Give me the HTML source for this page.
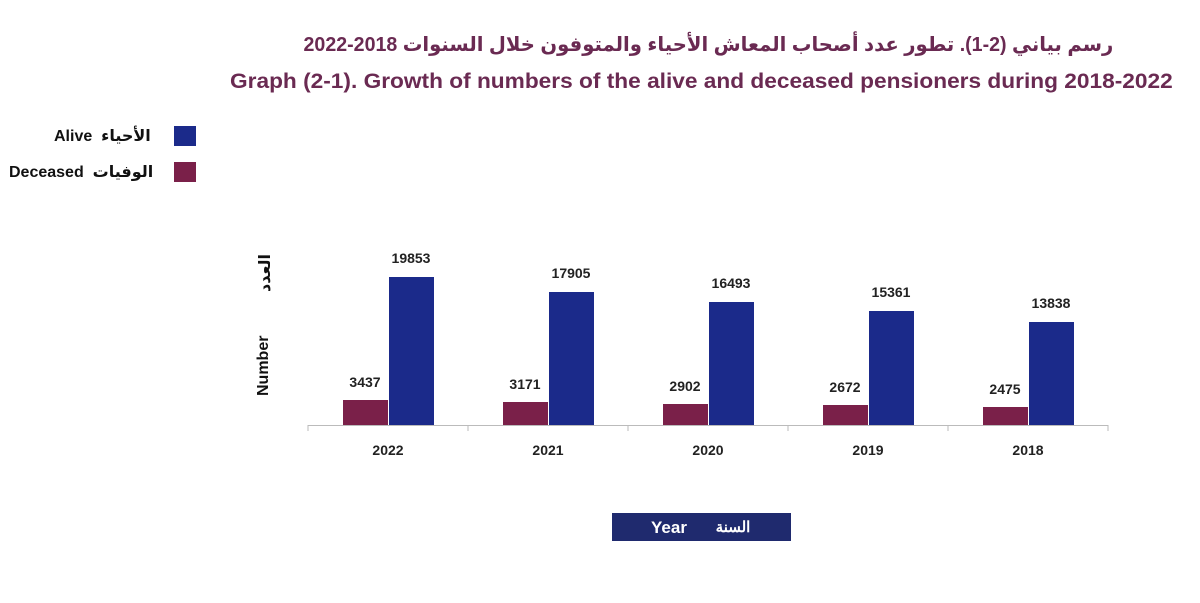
<!DOCTYPE html>
<html><head><meta charset="utf-8"><style>
body{margin:0;width:1200px;height:603px;background:#fff;position:relative;overflow:hidden;font-family:"Liberation Sans","DejaVu Sans",sans-serif;font-weight:bold}
.t{position:absolute;white-space:nowrap}
</style></head><body>
<div class="t" style="right:87px;top:32px;font-size:20px;color:#6a2a52;direction:rtl;transform:scaleX(0.98);transform-origin:right center">رسم بياني (2-1). تطور عدد أصحاب المعاش الأحياء والمتوفون خلال السنوات 2018-2022</div>
<div class="t" style="left:230px;top:70px;font-size:21px;color:#6a2a52;transform:scaleX(1.08);transform-origin:left center">Graph (2-1). Growth of numbers of the alive and deceased pensioners during 2018-2022</div>
<div class="t" style="left:54px;top:126px;font-size:16px;color:#111">Alive &nbsp;الأحياء</div>
<div style="position:absolute;left:174px;top:126px;width:22px;height:20px;background:#1b2a8a"></div>
<div class="t" style="left:9px;top:162px;font-size:16px;color:#111">Deceased &nbsp;الوفيات</div>
<div style="position:absolute;left:174px;top:162px;width:22px;height:20px;background:#7a2049"></div>
<div class="t" style="font-size:16px;color:#111;transform:rotate(-90deg);transform-origin:0 0;left:255px;top:396px">Number</div>
<div class="t" style="left:255px;top:292px;font-size:16px;color:#111;transform:rotate(-90deg);transform-origin:0 0">العدد</div>
<svg width="1200" height="603" style="position:absolute;left:0;top:0" font-family="Liberation Sans, sans-serif" font-weight="bold" font-size="14">
<line x1="308" y1="425.5" x2="1108" y2="425.5" stroke="#bbb"/>
<g stroke="#bbb"><line x1="308" y1="425" x2="308" y2="431"/><line x1="468" y1="425" x2="468" y2="431"/><line x1="628" y1="425" x2="628" y2="431"/><line x1="788" y1="425" x2="788" y2="431"/><line x1="948" y1="425" x2="948" y2="431"/><line x1="1108" y1="425" x2="1108" y2="431"/></g>
<g fill="#7a2049">
<rect x="343" y="400" width="45" height="25"/><rect x="503" y="402" width="45" height="23"/><rect x="663" y="404" width="45" height="21"/><rect x="823" y="405" width="45" height="20"/><rect x="983" y="407" width="45" height="18"/></g>
<g fill="#1b2a8a">
<rect x="389" y="277" width="45" height="148"/><rect x="549" y="292" width="45" height="133"/><rect x="709" y="302" width="45" height="123"/><rect x="869" y="311" width="45" height="114"/><rect x="1029" y="322" width="45" height="103"/></g>
<g fill="#222" text-anchor="middle">
<text x="365" y="387">3437</text><text x="525" y="389">3171</text><text x="685" y="391">2902</text><text x="845" y="392">2672</text><text x="1005" y="394">2475</text>
<text x="411" y="263">19853</text><text x="571" y="278">17905</text><text x="731" y="288">16493</text><text x="891" y="297">15361</text><text x="1051" y="308">13838</text>
<text x="388" y="455">2022</text><text x="548" y="455">2021</text><text x="708" y="455">2020</text><text x="868" y="455">2019</text><text x="1028" y="455">2018</text>
</g>
<rect x="612" y="513" width="179" height="28" fill="#1f2a6e"/>
<text x="669" y="533" fill="#fff" font-size="17" text-anchor="middle">Year</text>
<text x="733" y="532" fill="#fff" font-size="15" text-anchor="middle">السنة</text>
</svg>
</body></html>
